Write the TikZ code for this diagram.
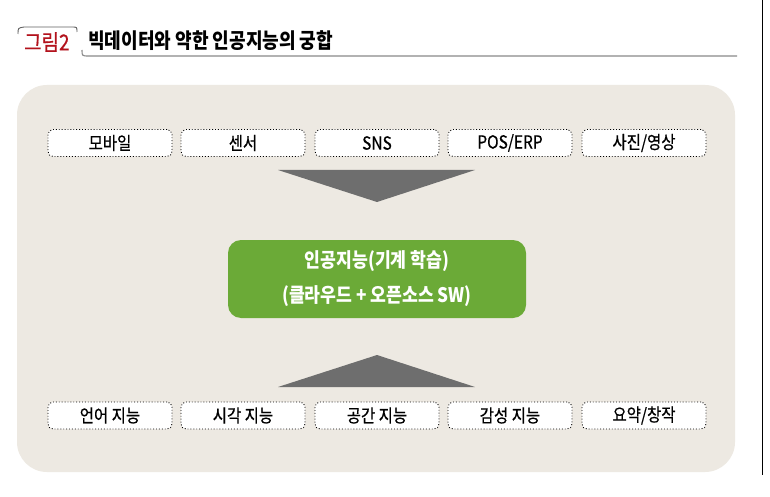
\documentclass[tikz,border=0pt]{standalone}
\usepackage{fontspec}
\usepackage{graphicx}
\newfontfamily\kr{Noto Sans CJK KR}
\newfontfamily\krm[FakeBold=0.6]{Noto Sans CJK KR}
\definecolor{panel}{HTML}{EDE9E2}
\definecolor{leaf}{HTML}{6BAA37}
\definecolor{arrowgray}{HTML}{6E6E6E}
\definecolor{figred}{HTML}{B3121C}
\definecolor{rulegray}{HTML}{8A8A8A}
\newcommand{\cx}[1]{\scalebox{0.86}[1]{#1}}
\tikzset{
  itembox/.style={draw=black, dotted, line width=0.9pt, fill=white, rounded corners=5pt,
    minimum width=124pt, minimum height=27pt, inner sep=0pt,
    font=\krm\fontsize{18}{20}\selectfont, text=black},
  corebox/.style={fill=leaf, rounded corners=13pt, minimum width=298pt, minimum height=78pt,
    inner sep=0pt, align=center, text=white, font=\kr\bfseries\fontsize{20}{35}\selectfont},
  funnel/.style={fill=arrowgray, draw=none}
}
\begin{document}
\begin{tikzpicture}[x=1pt,y=-1pt]
\useasboundingbox (0,0) rectangle (770,497);
\fill[white] (0,0) rectangle (770,497);
% vertical rule at right
\draw[black, line width=1pt] (762,0) -- (762,475);
% title
\draw[rulegray!70!black, line width=0.9pt] (18,34) .. controls (18,28) .. (24,27) -- (72,27) .. controls (77,27) .. (77,32);
\node[anchor=west, text=figred, font=\krm\fontsize{22}{24}\selectfont, inner sep=0pt] (fig) at (24,42) {\cx{그림2}};
\draw[rulegray, line width=1.1pt] (82,50) .. controls (82,56) .. (89,56) -- (737,56);
\node[anchor=west, font=\kr\bfseries\fontsize{21}{24}\selectfont, inner sep=0pt] (title) at (88,41) {\cx{빅데이터와 약한 인공지능의 궁합}};
% panel
\fill[panel, rounded corners=30pt] (17,85) rectangle (735,472);
% top boxes
\node[itembox] (t1) at (110,143) {\cx{모바일}};
\node[itembox] (t2) at (243,143) {\cx{센서}};
\node[itembox] (t3) at (377,143) {\cx{SNS}};
\node[itembox] (t4) at (510,143) {\cx{POS/ERP}};
\node[itembox] (t5) at (644,143) {\cx{사진/영상}};
% core
\node[corebox] (core) at (377,279) {\cx{인공지능(기계 학습)}\\\cx{(클라우드 + 오픈소스 SW)}};
% funnels
\coordinate (dl) at (278,170);
\coordinate (dr) at (475,170);
\coordinate (dt) at (377,202);
\fill[funnel] (dl) -- (dr) -- (dt) -- cycle;
\coordinate (ul) at (278,387);
\coordinate (ur) at (475,387);
\coordinate (ut) at (377,355);
\fill[funnel] (ul) -- (ur) -- (ut) -- cycle;
% bottom boxes
\node[itembox] (b1) at (110,415.5) {\cx{언어 지능}};
\node[itembox] (b2) at (243,415.5) {\cx{시각 지능}};
\node[itembox] (b3) at (377,415.5) {\cx{공간 지능}};
\node[itembox] (b4) at (510,415.5) {\cx{감성 지능}};
\node[itembox] (b5) at (644,415.5) {\cx{요약/창작}};
\end{tikzpicture}
\end{document}
